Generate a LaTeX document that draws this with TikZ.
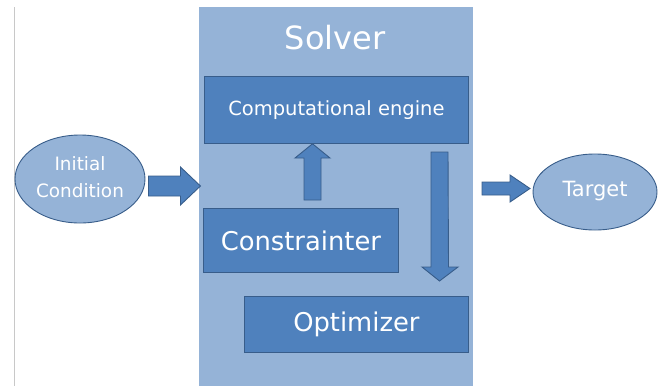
\documentclass[tikz,border=0pt]{standalone}
\usepackage{fontspec}
\setmainfont{DejaVu Sans}
\usetikzlibrary{shapes.geometric,calc}

\definecolor{panelblue}{HTML}{95B3D7}
\definecolor{boxblue}{HTML}{4F81BD}
\definecolor{edgeblue}{HTML}{385D8A}
\definecolor{railgrey}{HTML}{C8C8C8}

\tikzset{
  block/.style={draw=edgeblue, line width=0.8pt, fill=boxblue, text=white,
    anchor=north west, inner sep=0pt},
  blob/.style={ellipse, draw=edgeblue, line width=0.9pt, fill=panelblue,
    text=white, inner sep=0pt, align=center},
  fatarrow/.style={draw=edgeblue, line width=0.9pt, fill=boxblue},
}

\begin{document}
\begin{tikzpicture}[x=1pt,y=-1pt]
  \useasboundingbox (0,0) rectangle (663,386);

  % thin rule at the left edge
  \draw[railgrey, line width=0.8pt] (14.5,7) -- (14.5,386);

  % solver panel
  \fill[panelblue] (199,7) rectangle (473,386);
  \node[text=white, font=\fontsize{32}{36}\selectfont] (title) at (335,38) {Solver};

  % components
  \node[block, minimum width=264pt, minimum height=67pt,
        font=\fontsize{19.5}{22}\selectfont] (engine) at (204,76) {Computational engine};
  \node[block, minimum width=195pt, minimum height=64pt,
        font=\fontsize{25.8}{28}\selectfont] (cons) at (203,208) {Constrainter};
  \node[block, minimum width=224pt, minimum height=56pt,
        font=\fontsize{25.8}{28}\selectfont] (opt) at (244,296) {Optimizer};

  % input and output
  \node[blob, minimum width=130pt, minimum height=88pt,
        font=\fontsize{18.4}{27}\selectfont] (init) at (80,179)
        {\raisebox{3.5pt}{Initial}\\\raisebox{3.5pt}{Condition}};
  \node[blob, minimum width=124pt, minimum height=76pt,
        font=\fontsize{21}{24}\selectfont] (target) at (595,192)
        {\raisebox{7pt}{Target}};

  % block arrows
  % initial condition -> solver
  \coordinate (a1) at ($(init.east)+(3,7)$);
  \draw[fatarrow] ($(a1)+(0,-10)$) -- ++(32,0) -- ++(0,-9) -- ($(a1)+(52,0)$)
        -- ($(a1)+(32,19)$) -- ++(0,-9) -- ($(a1)+(0,10)$) -- cycle;

  % constrainter -> engine
  \coordinate (a2) at (312.5,200);
  \draw[fatarrow] ($(a2)+(-8.5,0)$) -- ++(0,-42) -- ++(-9,0) -- (engine.south -| a2)
        -- ($(a2)+(17.5,-42)$) -- ++(-9,0) -- ($(a2)+(8.5,0)$) -- cycle;

  % engine -> optimizer
  \coordinate (a3) at (439.5,152);
  \draw[fatarrow] ($(a3)+(-8.5,0)$) -- ++(0,115) -- ++(-9,0) -- ($(a3)+(0,129)$)
        -- ($(a3)+(18.5,115)$) -- ++(-9.5,0) -- ($(a3)+(8.5,0)$) -- cycle;

  % solver -> target
  \coordinate (a4) at (482,188.5);
  \draw[fatarrow] ($(a4)+(0,-6.5)$) -- ++(28,0) -- ++(0,-7) -- ($(a4)+(48,0)$)
        -- ($(a4)+(28,13.5)$) -- ++(0,-7) -- ($(a4)+(0,6.5)$) -- cycle;
\end{tikzpicture}
\end{document}
